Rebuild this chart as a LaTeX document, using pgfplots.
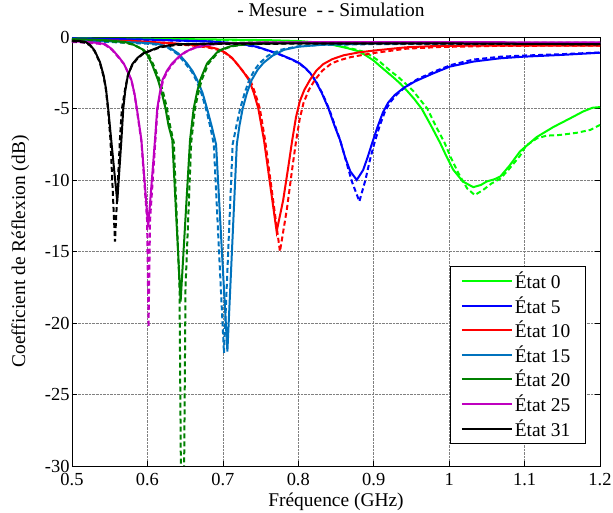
\documentclass[border=0pt]{standalone}
\usepackage{fontspec}
\setmainfont{Liberation Serif}
\usepackage{pgfplots}
\pgfplotsset{compat=1.18}
\definecolor{etatA}{RGB}{0,255,0}
\definecolor{etatB}{RGB}{0,0,255}
\definecolor{etatC}{RGB}{255,0,0}
\definecolor{etatD}{RGB}{0,114,189}
\definecolor{etatE}{RGB}{0,128,0}
\definecolor{etatF}{RGB}{191,0,191}
\definecolor{etatG}{RGB}{0,0,0}
\newcommand{\ff}{\fontsize{18.5}{22}\selectfont}
\newcommand{\fx}{\fontsize{19.5}{23}\selectfont}
\newcommand{\fl}{\fontsize{19.5}{23}\selectfont}
\begin{document}
\begin{tikzpicture}
\begin{axis}[name=ax, scale only axis, width=528bp, height=429bp,
  xmin=0.5, xmax=1.2, ymin=-30, ymax=0,
  xtick={0.5,0.6,0.7,0.8,0.9,1.0,1.1,1.2},
  xticklabels={0.5,0.6,0.7,0.8,0.9,1,1.1,1.2},
  ytick={-30,-25,-20,-15,-10,-5,0},
  yticklabels={-30,-25,-20,-15,-10,-5,0},
  tick align=inside, major tick length=5bp,
  grid=major, major grid style={densely dotted, black!50, line width=0.5bp},
  axis line style={line width=0.9bp},
  tick style={black, line width=0.6bp},
  ticklabel style={font=\ff},
  xticklabel style={yshift=-4bp},
  yticklabel style={xshift=1bp},
  xlabel={Fréquence (GHz)}, ylabel={Coefficient de Réflexion (dB)},
  xlabel style={font=\fx, at={(axis description cs:0.5,-0.083)}, anchor=center},
  ylabel style={font=\fx, at={(axis description cs:-0.098,0.5)}, anchor=center},
  title={- Mesure\ \ - - Simulation},
  title style={font=\fx, at={(axis description cs:0.4905,1.049)}, anchor=center},
  legend style={at={(axis description cs:0.9735,0.0513)}, anchor=south east,
    font=\fl, draw=black, line width=0.8bp, fill=white, row sep=2.4bp,
    inner xsep=10bp, inner ysep=4bp},
  legend cell align=left,
  legend image code/.code={\draw[#1, solid, line width=2bp] (0bp,0bp) -- (50bp,0bp);},
  mes/.style={line width=2bp, solid},
  sim/.style={line width=2bp, dash pattern=on 5bp off 3bp},
]
% Etat 0
\addplot[etatA, mes] coordinates {(0.50,-0.10)(0.60,-0.12)(0.70,-0.18)(0.76,-0.22)(0.80,-0.28)(0.83,-0.40)(0.846,-0.55)(0.865,-0.78)(0.880,-1.00)(0.890,-1.30)(0.900,-1.65)(0.908,-2.02)(0.917,-2.42)(0.926,-2.82)(0.935,-3.25)(0.944,-3.75)(0.954,-4.35)(0.964,-5.05)(0.976,-6.20)(0.988,-7.40)(0.996,-8.30)(1.005,-9.25)(1.018,-10.10)(1.032,-10.50)(1.042,-10.35)(1.050,-10.10)(1.060,-9.95)(1.068,-9.75)(1.080,-9.00)(1.094,-8.00)(1.105,-7.50)(1.116,-7.00)(1.138,-6.30)(1.160,-5.70)(1.178,-5.20)(1.190,-4.95)(1.200,-4.90)};
\addlegendentry{État 0\hspace*{13bp}}
\addplot[etatA, sim, forget plot] coordinates {(0.50,-0.15)(0.60,-0.17)(0.70,-0.22)(0.76,-0.27)(0.80,-0.33)(0.83,-0.42)(0.850,-0.58)(0.870,-0.80)(0.886,-1.02)(0.897,-1.32)(0.907,-1.68)(0.915,-2.05)(0.924,-2.45)(0.933,-2.82)(0.942,-3.25)(0.952,-3.75)(0.961,-4.35)(0.971,-5.00)(0.982,-6.20)(0.994,-7.40)(1.002,-8.40)(1.012,-9.50)(1.024,-10.60)(1.034,-11.05)(1.045,-10.70)(1.056,-10.25)(1.068,-9.90)(1.080,-9.20)(1.094,-8.30)(1.102,-7.60)(1.116,-7.10)(1.129,-6.90)(1.147,-6.85)(1.169,-6.70)(1.187,-6.50)(1.200,-6.15)};
% Etat 5
\addplot[etatB, mes] coordinates {(0.50,-0.10)(0.60,-0.18)(0.68,-0.30)(0.72,-0.45)(0.745,-0.68)(0.758,-0.90)(0.775,-1.20)(0.793,-1.60)(0.802,-1.85)(0.810,-2.20)(0.8155,-2.50)(0.822,-3.00)(0.831,-3.90)(0.840,-5.00)(0.848,-6.20)(0.8553,-7.20)(0.862,-8.40)(0.869,-9.40)(0.8775,-10.00)(0.886,-9.30)(0.892,-8.40)(0.898,-7.40)(0.905,-6.30)(0.912,-5.30)(0.919,-4.60)(0.928,-4.05)(0.940,-3.55)(0.955,-3.10)(0.979,-2.54)(1.001,-2.07)(1.032,-1.72)(1.0675,-1.49)(1.098,-1.38)(1.150,-1.25)(1.200,-1.10)};
\addlegendentry{État 5}
\addplot[etatB, sim, forget plot] coordinates {(0.50,-0.12)(0.60,-0.20)(0.68,-0.32)(0.72,-0.47)(0.745,-0.70)(0.758,-0.92)(0.775,-1.22)(0.793,-1.62)(0.802,-1.88)(0.810,-2.22)(0.816,-2.55)(0.823,-3.05)(0.832,-3.95)(0.841,-5.05)(0.849,-6.25)(0.856,-7.30)(0.863,-8.60)(0.871,-10.10)(0.881,-11.50)(0.889,-10.00)(0.895,-8.60)(0.901,-7.40)(0.908,-6.20)(0.915,-5.20)(0.922,-4.55)(0.931,-4.00)(0.943,-3.45)(0.958,-2.95)(0.981,-2.40)(1.003,-1.95)(1.032,-1.58)(1.0675,-1.38)(1.098,-1.30)(1.150,-1.20)(1.200,-1.08)};
% Etat 10
\addplot[etatC, mes] coordinates {(0.50,-0.20)(0.58,-0.28)(0.63,-0.42)(0.66,-0.55)(0.68,-0.68)(0.692,-0.82)(0.703,-1.08)(0.712,-1.45)(0.720,-1.95)(0.728,-2.50)(0.735,-3.05)(0.741,-3.90)(0.747,-5.00)(0.7545,-7.20)(0.7713,-13.60)(0.780,-11.40)(0.787,-9.00)(0.792,-7.20)(0.797,-5.60)(0.802,-4.50)(0.808,-3.70)(0.8155,-3.00)(0.824,-2.35)(0.833,-1.90)(0.845,-1.55)(0.860,-1.28)(0.880,-1.08)(0.900,-0.95)(0.943,-0.72)(0.987,-0.62)(1.067,-0.60)(1.200,-0.60)};
\addlegendentry{État 10}
\addplot[etatC, sim, forget plot] coordinates {(0.50,-0.25)(0.58,-0.33)(0.63,-0.48)(0.66,-0.60)(0.68,-0.73)(0.692,-0.88)(0.703,-1.12)(0.713,-1.52)(0.721,-2.02)(0.729,-2.55)(0.737,-3.10)(0.743,-3.95)(0.749,-5.00)(0.756,-7.20)(0.7757,-15.00)(0.785,-12.00)(0.792,-9.20)(0.797,-7.30)(0.802,-5.70)(0.807,-4.60)(0.814,-3.70)(0.822,-3.00)(0.832,-2.35)(0.844,-1.85)(0.855,-1.62)(0.870,-1.40)(0.900,-1.12)(0.943,-0.82)(0.987,-0.70)(1.067,-0.62)(1.200,-0.60)};
% Etat 15
\addplot[etatD, mes] coordinates {(0.50,-0.25)(0.55,-0.30)(0.60,-0.42)(0.615,-0.50)(0.628,-0.70)(0.641,-1.15)(0.6525,-1.85)(0.660,-2.40)(0.666,-3.00)(0.673,-3.90)(0.679,-5.00)(0.685,-6.20)(0.691,-7.50)(0.706,-22.00)(0.7185,-7.50)(0.722,-6.20)(0.7263,-5.00)(0.732,-3.90)(0.7383,-3.00)(0.746,-2.30)(0.754,-1.80)(0.766,-1.30)(0.781,-0.90)(0.800,-0.68)(0.830,-0.55)(0.900,-0.45)(1.000,-0.42)(1.200,-0.42)};
\addlegendentry{État 15}
\addplot[etatD, sim, forget plot] coordinates {(0.50,-0.30)(0.55,-0.35)(0.60,-0.47)(0.615,-0.55)(0.627,-0.75)(0.640,-1.20)(0.651,-1.90)(0.659,-2.45)(0.665,-3.05)(0.672,-4.00)(0.678,-5.10)(0.683,-6.20)(0.688,-7.50)(0.7015,-22.10)(0.713,-7.50)(0.718,-6.20)(0.723,-5.00)(0.729,-3.90)(0.735,-3.00)(0.742,-2.30)(0.7493,-1.80)(0.760,-1.30)(0.776,-0.90)(0.800,-0.65)(0.830,-0.55)(0.900,-0.50)(1.200,-0.48)};
% Etat 20
\addplot[etatE, mes] coordinates {(0.50,-0.15)(0.54,-0.20)(0.57,-0.35)(0.580,-0.50)(0.593,-0.85)(0.600,-1.25)(0.606,-1.90)(0.614,-3.00)(0.619,-3.90)(0.624,-5.00)(0.628,-6.20)(0.633,-7.20)(0.644,-18.50)(0.6565,-7.20)(0.6613,-5.00)(0.666,-3.80)(0.670,-3.00)(0.679,-1.85)(0.6945,-0.95)(0.710,-0.65)(0.730,-0.50)(0.760,-0.45)(0.800,-0.40)(1.000,-0.40)(1.200,-0.45)};
\addlegendentry{État 20}
\addplot[etatE, sim, forget plot] coordinates {(0.50,-0.20)(0.54,-0.25)(0.57,-0.40)(0.582,-0.55)(0.595,-0.90)(0.602,-1.30)(0.608,-1.95)(0.616,-3.00)(0.621,-3.90)(0.626,-5.00)(0.630,-6.20)(0.635,-7.40)(0.6425,-17.50)(0.6465,-45.0)(0.6505,-17.50)(0.658,-7.40)(0.663,-5.00)(0.668,-3.80)(0.672,-3.00)(0.681,-1.85)(0.696,-0.95)(0.712,-0.65)(0.730,-0.52)(0.760,-0.47)(0.800,-0.42)(1.200,-0.45)};
% Etat 25
\addplot[etatF, mes] coordinates {(0.50,-0.30)(0.52,-0.35)(0.535,-0.42)(0.544,-0.50)(0.553,-0.85)(0.562,-1.40)(0.5685,-1.85)(0.574,-2.45)(0.5787,-3.00)(0.583,-4.00)(0.586,-5.00)(0.592,-7.20)(0.601,-13.30)(0.610,-7.20)(0.613,-5.00)(0.6165,-3.90)(0.620,-3.00)(0.626,-2.35)(0.6326,-1.85)(0.642,-1.35)(0.650,-1.05)(0.660,-0.80)(0.677,-0.56)(0.700,-0.45)(0.750,-0.38)(0.900,-0.35)(1.200,-0.38)};
\addlegendentry{État 25}
\addplot[etatF, sim, forget plot] coordinates {(0.50,-0.35)(0.52,-0.40)(0.535,-0.47)(0.544,-0.55)(0.553,-0.90)(0.562,-1.45)(0.569,-1.90)(0.5745,-2.50)(0.579,-3.05)(0.583,-4.05)(0.586,-5.10)(0.592,-7.30)(0.5995,-12.80)(0.6015,-20.30)(0.6035,-12.80)(0.6105,-7.30)(0.6135,-5.00)(0.617,-3.90)(0.621,-3.00)(0.627,-2.35)(0.634,-1.85)(0.643,-1.35)(0.651,-1.05)(0.661,-0.80)(0.678,-0.56)(0.700,-0.45)(0.750,-0.40)(0.900,-0.37)(1.200,-0.40)};
% Etat 31
\addplot[etatG, mes] coordinates {(0.500,-0.25)(0.510,-0.28)(0.518,-0.35)(0.524,-0.55)(0.530,-0.95)(0.537,-1.75)(0.542,-2.70)(0.545,-3.60)(0.548,-5.00)(0.552,-7.20)(0.5600,-11.50)(0.5655,-7.20)(0.568,-5.00)(0.5705,-3.80)(0.574,-2.70)(0.580,-1.90)(0.587,-1.45)(0.5945,-1.14)(0.6167,-0.68)(0.639,-0.50)(0.700,-0.45)(0.800,-0.45)(1.000,-0.45)(1.200,-0.50)};
\addlegendentry{État 31}
\addplot[etatG, sim, forget plot] coordinates {(0.500,-0.30)(0.510,-0.33)(0.518,-0.40)(0.524,-0.60)(0.530,-1.00)(0.537,-1.80)(0.542,-2.80)(0.545,-3.70)(0.548,-5.20)(0.551,-7.20)(0.557,-14.30)(0.5635,-7.20)(0.566,-5.10)(0.5705,-3.60)(0.5745,-2.60)(0.580,-1.95)(0.587,-1.50)(0.595,-1.15)(0.617,-0.72)(0.639,-0.55)(0.700,-0.48)(0.800,-0.47)(1.000,-0.47)(1.200,-0.52)};
\end{axis}
\pgfresetboundingbox
\path ([shift={(-72bp,-47bp)}]ax.south west) rectangle ([shift={(13bp,37bp)}]ax.north east);
\end{tikzpicture}
\end{document}
